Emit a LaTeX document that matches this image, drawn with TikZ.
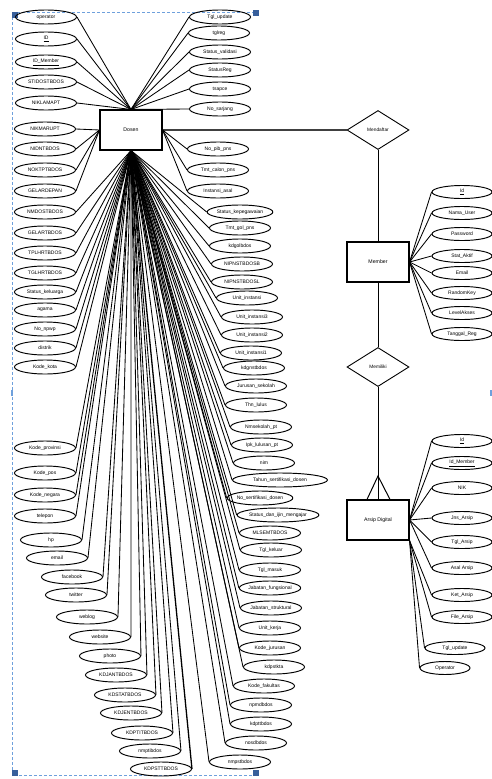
\documentclass[tikz,border=0pt]{standalone}
\usepackage{fontspec}
\setmainfont{Liberation Sans}
\usetikzlibrary{shapes.geometric}
\definecolor{selblue}{RGB}{110,160,220}
\definecolor{handle}{RGB}{55,95,155}
\begin{document}
\begin{tikzpicture}[x=1pt,y=-1pt,
  attr/.style={ellipse,draw,line width=0.95pt,inner sep=0pt,minimum width=61pt,minimum height=14pt,font=\fontsize{5}{5.5}\selectfont},
  ent/.style={rectangle,draw,line width=1.1pt,minimum width=62pt,minimum height=40pt,inner sep=0pt,font=\fontsize{5.2}{6}\selectfont},
  rel/.style={diamond,draw,line width=0.9pt,inner sep=0pt,aspect=1.6,minimum width=62pt,minimum height=39pt,font=\fontsize{4.8}{5}\selectfont},
  link/.style={line width=0.85pt},
  sel/.style={selblue,line width=0.8pt,dash pattern=on 3pt off 2pt},
  hnd/.style={fill=handle,draw=none,minimum size=6pt,inner sep=0pt}]
\useasboundingbox (0,0) rectangle (492,779);
\fill[white] (0,0) rectangle (492,779);

% selection frame around the Dosen group
\draw[sel] (12,12) -- (12,775) -- (257,775);
\draw[sel] (12,12) -- (257,12);
\node[hnd] (h1) at (15,15) {};
\node[hnd] (h2) at (256,13) {};
\node[hnd] (h3) at (15,773) {};
\node[hnd] (h4) at (256,773) {};
\node[fill=selblue,minimum width=2pt,minimum height=6pt,inner sep=0pt] (h5) at (12,393) {};
\node[fill=selblue,minimum width=2pt,minimum height=6pt,inner sep=0pt] (h6) at (491,393) {};

% entities and relationships
\node[ent] (dosen) at (131,130) {Dosen};
\node[rel] (daftar) at (378,130) {Mendaftar};
\node[ent] (member) at (378,262) {Member};
\node[rel] (milik) at (378,367) {Memiliki};
\node[ent] (arsip) at (378,520) {Arsip Digital};

\draw[line width=1.4pt,black!75] (dosen.east) -- (daftar.west);
\draw[line width=1pt] (daftar.south) -- (member.north);
\draw[line width=1pt] (member.south) -- (milik.north);
\coordinate (crow) at (378,476);
\draw[line width=1pt] (milik.south) -- (arsip.north);
\draw[line width=1pt] ([xshift=-11pt]arsip.north) -- (crow) -- ([xshift=12pt]arsip.north);

% Dosen attributes, left column
\foreach \n/\x/\y/\t/\a in {
  la/46/17/operator/north,
  lb/46/39/\underline{ID}/north,
  lc/46/62/\underline{ID\_Member}/north,
  ld/46/82/STIDOSTBDOS/north,
  le/46/103/NIKLAMAPT/north,
  lf/45/129/NIKMARUPT/west,
  lg/45/149/NIDNTBDOS/west,
  lh/45/170/NOKTPTBDOS/west,
  li/45/191/GELARDEPAN/west,
  lj/45/212/NMDOSTBDOS/south,
  lk/45/233/GELARTBDOS/south,
  ll/45/253/TPLHRTBDOS/south,
  lm/45/273/TGLHRTBDOS/south,
  ln/45/292/Status\_keluarga/south,
  lo/45/310/agama/south,
  lp/45/329/No\_npwp/south,
  lq/45/348/distrik/south,
  lr/45/367/Kode\_kota/south,
  ma/45/448/Kode\_provinsi/south,
  mb/45/473/Kode\_pos/south,
  mc/45/495/Kode\_negara/south,
  md/45/516/telepon/south,
  me/51/540/hp/south,
  mf/57/558/email/south,
  mg/72/577/facebook/south,
  mh/76/595/twitter/south,
  mi/87/617/weblog/south,
  mj/100/637/website/south,
  mk/110/656/photo/south,
  ml/116/675/KDJANTBDOS/south,
  mm/125/695/KDSTATBDOS/south,
  mn/131/713/KDJENTBDOS/south,
  mo/142/733/KDPTITBDOS/south,
  mp/150/751/nmptibdos/south}
{
  \node[attr] (\n) at (\x,\y) {\t};
  \draw[link] (\n.east) -- (dosen.\a);
}
\node[attr] (mq) at (161,769) {KDPSTTBDOS};
\draw[line width=1.3pt] (mq.east) -- (dosen.south);

% Dosen attributes, right column
\foreach \n/\x/\y/\t/\a in {
  ra/220/17/Tgl\_update/north,
  rb/219/33/tglreg/north,
  rc/220/52/Status\_validasi/north,
  rd/220/70/StatusReg/north,
  re/220/89/tsapce/north,
  rf/220/109/No\_sarjang/north,
  rg/218/149/No\_pib\_pns/east,
  rh/218/170/Tmt\_calon\_pns/east,
  ri/218/191/Instansi\_asal/east,
  rj/240/212/Status\_kepegawaian/south,
  rk/240/228/Tmt\_gol\_pns/south,
  rl/240/246/kdgolbdos/south,
  rm/242/264/NIPNSTBDOSB/south,
  rn/242/282/NIPNSTBDOSL/south,
  ro/247/298/Unit\_instansi/south,
  rp/252/317/Unit\_instansi3/south,
  rq/252/335/Unit\_instansi2/south,
  rr/251/353/Unit\_instansi1/south,
  rs/254/368/kdgnstbdos/south,
  rt/256/386/Jurusan\_sekolah/south,
  ru/256/405/Thn\_lulus/south,
  rv/261/427/Nmsekolah\_pt/south,
  rw/262/445/Ipk\_lulusan\_pt/south,
  rx/264/463/nim/south,
  sa/260/498/No\_sertifikasi\_dosen/south,
  sc/270/533/MLSEMTBDOS/south,
  sd/271/550/Tgl\_keluar/south,
  se/270/570/Tgl\_masuk/south,
  sf/270/588/Jabatan\_fungsional/south,
  sg/271/608/Jabatan\_struktural/south,
  sh/270/628/Unit\_kerja/south,
  si/270/648/Kode\_jurusan/south,
  sj/274/667/kdpstkta/south,
  sk/264/686/Kode\_fakultas/south,
  sl/261/705/npmdbdos/south,
  sm/261/724/kdpttbdos/south,
  sn/256/743/nosdbdos/south,
  so/240/762/nmpstbdos/south}
{
  \node[attr] (\n) at (\x,\y) {\t};
  \draw[link] (\n.west) -- (dosen.\a);
}
\node[attr,minimum width=95pt] (ry) at (280,480) {Tahun\_sertifikasi\_dosen};
\draw[link] (ry.west) -- (dosen.south);
\node[attr,minimum width=79pt] (sb) at (278,515) {Status\_dan\_ijin\_mengajar};
\draw[link] (sb.west) -- (dosen.south);

% Member attributes
\foreach \n/\y/\t in {
  ua/192/\underline{Id},
  ub/213/Nama\_User,
  uc/234/Password,
  ud/256/Stat\_Aktif,
  ue/273/Email,
  uf/293/RandomKey,
  ug/313/LevelAkses,
  uh/334/Tanggal\_Reg}
{
  \node[attr,minimum width=60pt,minimum height=13pt] (\n) at (462,\y) {\t};
  \draw[link] (\n.west) -- (member.east);
}

% Arsip Digital attributes
\foreach \n/\x/\y/\t/\a in {
  va/462/441/\underline{Id}/east,
  vb/462/463/\underline{Id\_Member}/east,
  vc/462/488/NIK/east,
  vd/462/518/Jns\_Arsip/east,
  ve/462/542/Tgl\_Arsip/east,
  vf/462/568/Asal Arsip/east,
  vg/462/595/Ket\_Arsip/south east,
  vh/462/617/File\_Arsip/south east,
  vi/455/648/Tgl\_update/south east}
{
  \node[attr,minimum width=60pt,minimum height=13pt] (\n) at (\x,\y) {\t};
  \draw[link] (\n.west) -- (arsip.\a);
}
\node[attr,minimum width=50pt,minimum height=13pt] (vj) at (445,668) {Operator};
\draw[link] (vj.west) -- (arsip.south east);
\end{tikzpicture}
\end{document}
